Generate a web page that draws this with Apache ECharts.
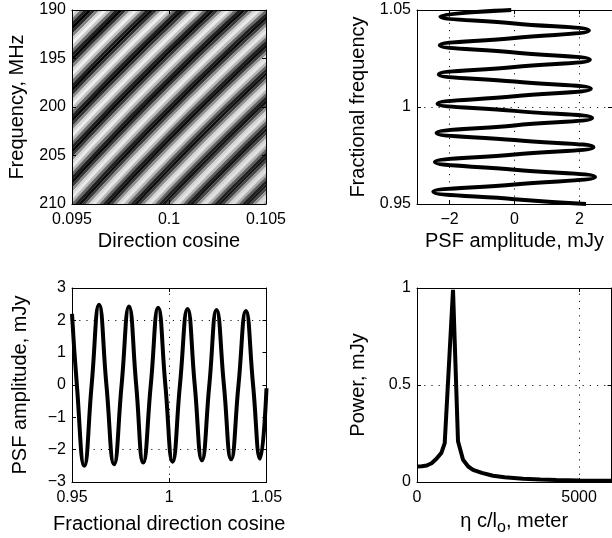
<!DOCTYPE html>
<html><head><meta charset="utf-8">
<script src="https://cdn.jsdelivr.net/npm/echarts@6/dist/echarts.min.js"></script>
<style>html,body{margin:0;padding:0;background:#fff}#c{width:612px;height:538px}</style>
</head><body><div id="c"></div>
<script>
// ---------- Top-left image: direction cosine x frequency ----------
const dirCosRange = [0.095, 0.105];
const freqRangeMHz = [190, 210];
const refDirCos = 0.1;
const refFreqMHz = 200;
// PSF amplitude (mJy) read across the stripes at equal steps of
// (l/0.1)*(f/200), starting at 0.9019 (top-left corner) with step 0.1/53
const heatStep = 0.1 / 53;
const heatStart = 0.9 + heatStep;
const heatProfile = [
  1.93, 2.60, 1.73, -0.15, -1.95, -2.59, -1.71, 0.18,
  1.94, 2.56, 1.68, -0.20, -1.95, -2.56, -1.66, 0.22,
  1.94, 2.52, 1.62, -0.24, -1.96, -2.52, -1.60, 0.27,
  1.95, 2.49, 1.56, -0.28, -1.96, -2.48, -1.54, 0.31,
  1.95, 2.45, 1.51, -0.33, -1.96, -2.45, -1.49, 0.35,
  1.95, 2.41, 1.45, -0.36, -1.96, -2.40, -1.43, 0.38,
  1.95, 2.37, 1.40, -0.40, -1.96, -2.36, -1.38, 0.42,
  1.95, 2.33, 1.34, -0.44, -1.96, -2.33, -1.32, 0.46,
  1.94, 2.28, 1.29, -0.47, -1.95, -2.28, -1.27, 0.49,
  1.94, 2.24, 1.23, -0.51, -1.95, -2.24, -1.21, 0.53,
  1.93, 2.21, 1.18, -0.54, -1.94, -2.20, -1.16, 0.56,
  1.93, 2.17, 1.13, -0.57, -1.94, -2.16, -1.11, 0.59,
  1.91, 2.12, 1.08, -0.60, -1.93, -2.11, -1.06, 0.62,
  1.91, 2.08, 1.03
];
const dirCosTicks = [0.095, 0.1, 0.105];
const freqTicks = [190, 195, 200, 205, 210];

// ---------- PSF cut (top-right vs frequency, bottom-left vs direction cosine) ----------
const fracCoord = [0.95, 0.9525, 0.9563, 0.9601, 0.9639, 0.9677, 0.9716, 0.9755, 0.9793, 0.9830,
  0.9866, 0.9905, 0.9943, 0.9980, 1.0017, 1.0055, 1.0094, 1.0131, 1.0168, 1.0206,
  1.0243, 1.0281, 1.0318, 1.0356, 1.0394, 1.0431, 1.0467, 1.05];
const psfAmp = [2.2, 0, -2.5, 0, 2.48, 0, -2.45, 0, 2.43, 0,
  -2.4, 0, 2.39, 0, -2.37, 0, 2.35, 0, -2.33, 0,
  2.32, 0, -2.3, 0, 2.29, 0, -2.28, -0.1];
const fracTicks = [0.95, 1, 1.05];
const ampTicksTR = [-2, 0, 2];
const ampTicksBL = [-3, -2, -1, 0, 1, 2, 3];

// ---------- Power spectrum (bottom-right) ----------
const etaMeters = [0, 150, 300, 450, 600, 752, 855, 1111, 1265, 1420, 1580, 1728, 2000, 2346, 2700, 3272, 3800, 4300, 5000, 5844, 6000];
const powerMJy = [0.08, 0.081, 0.085, 0.097, 0.12, 0.15, 0.20, 0.99, 0.21, 0.115, 0.08, 0.063, 0.047, 0.032, 0.024, 0.017, 0.013, 0.010, 0.008, 0.007, 0.007];
const etaTicks = [0, 5000];
const powerTicks = [0, 0.5, 1];

// ---------- build ----------
const FF = '"Liberation Sans", Arial, Helvetica, sans-serif';
const TITLE = 20;
const minus = v => (v < 0 ? '\u2212' + Math.abs(v) : String(v));

// one item per stripe band: [anchor l, anchor f, value, band index]
const lastBand = heatProfile.length - 1;
const heatData = heatProfile.map((v, k) => {
  const r = Math.sqrt(heatStart + k * heatStep);
  return [refDirCos * r, refFreqMHz * r, v, k];
});

const psfBL = fracCoord.map((u, k) => [u, psfAmp[k]]);
const psfTR = fracCoord.map((u, k) => [psfAmp[k], u]);
const powerData = etaMeters.map((e, k) => [e, powerMJy[k]]);

const grids = [
  {left: 72, top: 10, width: 194, height: 194},
  {left: 417, top: 10, width: 195, height: 194},
  {left: 72, top: 288, width: 194.5, height: 194},
  {left: 417, top: 288, width: 194.5, height: 194}
];

function axis(opt) {
  const o = {
    type: 'value', gridIndex: opt.grid, min: opt.min, max: opt.max, interval: opt.interval,
    position: opt.position, inverse: !!opt.inverse, z: 5,
    axisLine: {show: true, onZero: false, lineStyle: {color: '#000', width: 1}},
    axisTick: {show: true, inside: true, length: 4, lineStyle: {color: '#000'}},
    axisLabel: {show: !opt.mirror, color: '#000', fontSize: 16, fontFamily: FF, margin: opt.margin || 6,
      formatter: v => (opt.ticks.some(t => Math.abs(t - v) < 1e-9) ? minus(+v.toFixed(4)) : '')},
    splitLine: {show: false}
  };
  o.axisLabel.customValues = opt.ticks;
  o.axisTick.customValues = opt.ticks;
  if (opt.name && !opt.mirror) {
    o.name = opt.name; o.nameLocation = 'middle'; o.nameGap = opt.nameGap;
    o.nameTextStyle = Object.assign({color: '#000', fontSize: TITLE, fontFamily: FF}, opt.nameStyle || {});
  }
  return o;
}

const xSpecs = [
  {grid: 0, min: 0.095, max: 0.105, interval: 0.005, ticks: dirCosTicks, name: 'Direction cosine', nameGap: 27, margin: 8},
  {grid: 1, min: -3, max: 3, interval: 1, ticks: ampTicksTR, name: 'PSF amplitude, mJy', nameGap: 27, margin: 8},
  {grid: 2, min: 0.95, max: 1.05, interval: 0.05, ticks: fracTicks, name: 'Fractional direction cosine', nameGap: 32, margin: 8},
  {grid: 3, min: 0, max: 6000, interval: 1000, ticks: etaTicks, name: '{a|\u03b7 c/l}{s|o}{a|, meter}', nameGap: 24, margin: 8,
    nameStyle: {rich: {a: {fontSize: TITLE, fontFamily: FF, color: '#000'}, s: {fontSize: 16, fontFamily: FF, color: '#000', padding: [14, 0, 0, 0]}}}}
];
const ySpecs = [
  {grid: 0, min: 190, max: 210, interval: 5, inverse: true, ticks: freqTicks, name: 'Frequency, MHz', nameGap: 45},
  {grid: 1, min: 0.95, max: 1.05, interval: 0.05, ticks: fracTicks, name: 'Fractional frequency', nameGap: 49},
  {grid: 2, min: -3, max: 3, interval: 1, ticks: ampTicksBL, name: 'PSF amplitude, mJy', nameGap: 42},
  {grid: 3, min: 0, max: 1, interval: 0.5, ticks: powerTicks, name: 'Power, mJy', nameGap: 49}
];
const xAxes = xSpecs.map(s => axis(Object.assign({position: 'bottom'}, s)))
  .concat(xSpecs.map(s => axis(Object.assign({position: 'top', mirror: true}, s))));
const yAxes = ySpecs.map(s => axis(Object.assign({position: 'left'}, s)))
  .concat(ySpecs.map(s => axis(Object.assign({position: 'right', mirror: true}, s))));

const dotted = {color: '#000', width: 1, type: [1.2, 6], opacity: 0.9};
function gridLines(idx, marks) {
  return {type: 'line', xAxisIndex: idx, yAxisIndex: idx, data: [], z: 1, silent: true,
    markLine: {silent: true, symbol: 'none', animation: false, label: {show: false},
      lineStyle: dotted, data: marks}};
}
const curve = {color: '#000', width: 4};

// band between the curves (l/0.1)*(f/200) = U0 and = U1
function bandItem(params, api) {
  const k = api.value(3);
  const uc = heatStart + k * heatStep;
  const U0 = k === 0 ? 0.8 : uc - heatStep / 2;
  const U1 = (k === lastBand ? 1.25 : uc + heatStep / 2) + heatStep * 0.05;
  const lf = [];
  for (let t = 0; t <= 14; t++) lf.push(0.93 + t * 0.01);
  const lower = lf.map(x => api.coord([refDirCos * x, refFreqMHz * U0 / x]));
  const upper = lf.slice().reverse().map(x => api.coord([refDirCos * x, refFreqMHz * U1 / x]));
  return {type: 'polygon', shape: {points: lower.concat(upper)}, style: {fill: api.visual('color')}};
}

const option = {
  animation: false,
  backgroundColor: '#fff',
  grid: grids.map(g => Object.assign({show: false, containLabel: false}, g)),
  xAxis: xAxes,
  yAxis: yAxes,
  visualMap: {show: false, type: 'continuous', seriesIndex: 0, dimension: 2, min: -2.6, max: 2.6,
    inRange: {color: ['#000000', '#f4f4f4']}},
  series: [
    {type: 'custom', xAxisIndex: 0, yAxisIndex: 0, data: heatData, clip: true, z: 2,
      encode: {x: 0, y: 1}, renderItem: bandItem},
    gridLines(1, [{xAxis: -2}, {xAxis: 0}, {xAxis: 2}, {yAxis: 1}]),
    {type: 'line', xAxisIndex: 1, yAxisIndex: 1, data: psfTR, smooth: 0.5, showSymbol: false, lineStyle: curve, z: 3, clip: true},
    gridLines(2, [{yAxis: 2}, {yAxis: -2}, {xAxis: 1}]),
    {type: 'line', xAxisIndex: 2, yAxisIndex: 2, data: psfBL, smooth: 0.5, showSymbol: false, lineStyle: curve, z: 3, clip: true},
    gridLines(3, [{yAxis: 0.5}, {xAxis: 5000}]),
    {type: 'line', xAxisIndex: 3, yAxisIndex: 3, data: powerData, showSymbol: false, lineStyle: curve, z: 3, clip: true}
  ]
};
const chart = echarts.init(document.getElementById('c'), null, {renderer: 'canvas'});
chart.setOption(option);
</script>
</body></html>
